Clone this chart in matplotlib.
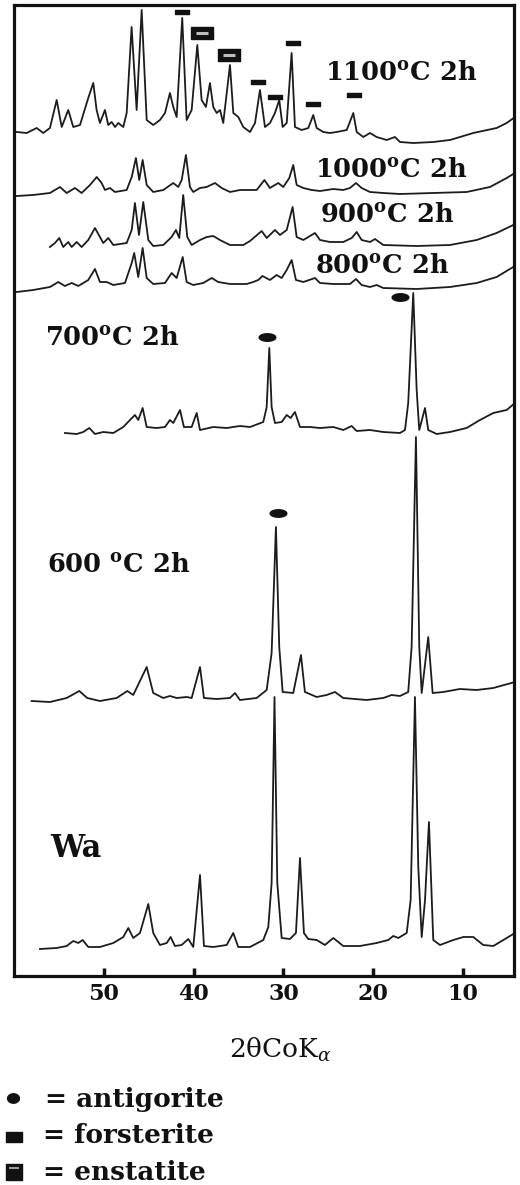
import numpy as np
import matplotlib
matplotlib.use("Agg")
import matplotlib.pyplot as plt

plt.rcParams['mathtext.fontset'] = 'custom'
plt.rcParams['mathtext.rm'] = 'DejaVu Serif'
plt.rcParams['mathtext.it'] = 'DejaVu Serif:italic'
plt.rcParams['mathtext.bf'] = 'DejaVu Serif:bold'

# ---------------- data (2theta, intensity above each pattern's offset) -------------
tt_1100 = [59.73, 58.61, 57.50, 56.76, 56.02, 55.27, 54.71, 53.98, 53.42, 52.67, 51.75, 51.19,
           50.82, 50.45, 49.89, 49.52, 49.14, 48.77, 48.40, 47.85, 47.47, 46.92, 46.36, 45.80,
           45.24, 44.51, 43.76, 43.20, 42.65, 42.28, 41.90, 41.28, 40.79, 40.23, 39.60, 39.12,
           38.64, 38.19, 37.82, 37.44, 37.07, 36.71, 35.96, 35.59, 35.03, 34.48, 33.73, 33.17,
           32.62, 32.06, 31.50, 30.95, 30.47, 30.09, 29.64, 29.09, 28.72, 27.97, 27.23, 26.68,
           26.30, 25.56, 24.82, 24.07, 22.95, 22.22, 21.84, 21.11, 20.36, 19.62, 18.50, 17.58,
           17.02, 15.54, 13.31, 11.45, 8.85, 6.25, 5.13, 4.20]
int_1100 = [4, 3, 8, 3, 8, 36, 9, 26, 9, 11, 38, 53,
            26, 13, 26, 11, 14, 9, 13, 9, 23, 109, 26, 126,
            16, 11, 16, 23, 43, 29, 19, 118, 16, 26, 91, 36,
            29, 53, 29, 23, 26, 13, 71, 23, 19, 9, 4, 13,
            46, 9, 13, 23, 36, 9, 13, 83, 9, 6, 8, 21,
            8, 4, 3, 4, 6, 23, 4, -1, 3, -1, -4, -1,
            -6, -7, -6, -4, 3, 8, 13, 19]

tt_1000 = [59.73, 57.91, 56.02, 54.90, 54.16, 53.23, 52.49, 51.56, 50.81, 50.26, 49.89, 49.33,
           48.78, 47.47, 46.91, 46.44, 46.07, 45.69, 45.24, 44.51, 43.39, 42.28, 41.72, 41.34,
           40.87, 40.42, 40.05, 39.30, 38.56, 37.63, 36.89, 35.96, 34.85, 33.73, 32.99, 32.12,
           31.51, 30.58, 30.02, 29.35, 28.91, 28.53, 27.79, 26.86, 25.93, 24.45, 23.34, 22.59,
           21.92, 21.29, 20.36, 18.88, 17.02, 13.31, 9.59, 6.99, 5.13, 4.21]
int_1000 = [0, 1, 3, 9, 3, 8, 3, 11, 19, 13, 6, 8,
            4, 6, 19, 38, 16, 36, 11, 4, 6, 13, 9, 16,
            41, 9, 4, 8, 9, 13, 8, 4, 6, 6, 6, 16,
            8, 13, 9, 18, 31, 11, 8, 6, 5, 7, 6, 8,
            13, 8, 4, 3, 2, 3, 4, 9, 18, 23]

tt_900 = [56.02, 55.46, 54.98, 54.54, 53.98, 53.60, 53.04, 52.49, 51.75, 51.00, 50.45, 50.08,
          49.52, 48.96, 47.47, 46.91, 46.55, 46.10, 45.62, 45.06, 44.51, 43.39, 42.46, 41.98,
          41.61, 41.17, 40.72, 40.23, 39.30, 38.56, 37.82, 37.08, 35.96, 34.48, 33.73, 32.43,
          31.87, 30.95, 30.39, 29.64, 28.98, 28.53, 27.79, 26.49, 25.93, 24.82, 23.34, 22.40,
          21.84, 21.29, 20.36, 19.80, 18.88, 15.16, 11.45, 8.47, 6.25, 4.40, 4.21]
int_900 = [-1, 3, 8, -1, 4, -1, 4, -1, 6, 18, 9, 3,
           8, 1, 3, 16, 43, 11, 44, 6, 0, 1, 9, 16,
           8, 51, 9, 1, 6, 9, 10, 6, 1, 1, 5, 15,
           8, 16, 11, 16, 39, 9, 6, 13, 6, 4, 4, 8,
           14, 6, 4, 7, 1, 0, 1, 6, 13, 21, 23]

tt_800 = [59.73, 57.88, 56.02, 55.09, 54.35, 53.60, 52.86, 51.75, 51.00, 50.45, 49.70, 48.96,
          47.66, 46.91, 46.63, 46.18, 45.69, 45.24, 44.51, 43.20, 42.46, 41.90, 41.23, 40.79,
          40.05, 38.94, 38.00, 37.27, 35.96, 34.10, 33.37, 32.81, 32.34, 31.51, 30.76, 30.20,
          29.64, 29.09, 28.61, 27.79, 26.49, 25.93, 24.45, 22.59, 21.92, 21.29, 20.36, 19.62,
          18.88, 15.16, 11.45, 8.47, 6.25, 4.40, 4.21]
int_800 = [-4, -2, 1, 6, 2, 5, 2, 8, 19, 6, 6, 3,
           5, 25, 35, 11, 40, 10, 4, 5, 15, 10, 31, 6,
           3, 5, 10, 6, 4, 4, 6, 8, 12, 8, 13, 10,
           18, 28, 8, 6, 10, 5, 4, 4, 9, 3, 1, 3,
           0, -1, 1, 5, 11, 21, 23]

tt_700 = [54.35, 53.04, 52.31, 51.64, 51.00, 50.08, 48.96, 47.85, 47.10, 46.55, 46.18, 45.69,
          45.24, 44.13, 43.20, 42.65, 42.28, 41.53, 41.09, 40.23, 39.67, 39.30, 37.82, 36.33,
          34.85, 33.73, 32.25, 31.87, 31.58, 31.32, 30.95, 30.20, 29.64, 29.20, 28.72, 28.16,
          27.05, 25.93, 24.45, 23.34, 22.40, 21.84, 20.36, 18.88, 17.02, 16.46, 16.10, 15.54,
          15.16, 14.87, 14.23, 13.87, 12.93, 11.45, 9.59, 8.11, 6.62, 5.13, 4.21]
int_700 = [-2, -3, -1, 3, -3, -1, -2, 4, 11, 16, 11, 23,
           4, 3, 4, 11, 8, 21, 4, 4, 18, 1, 4, 3,
           5, 4, 9, 24, 83, 24, 8, 9, 16, 13, 19, 4,
           4, 3, 4, 1, 5, 0, 1, -1, -2, 1, 28, 138,
           41, 1, 23, 1, -3, -1, 3, 11, 18, 21, 28]

tt_600 = [58.06, 56.02, 54.16, 52.75, 51.86, 50.45, 48.59, 47.40, 46.74, 45.24, 44.51, 43.39,
          42.65, 41.90, 40.79, 40.23, 39.30, 38.86, 37.44, 35.96, 35.40, 34.85, 32.99, 31.87,
          31.32, 30.84, 30.47, 30.09, 28.91, 28.05, 27.61, 26.30, 25.19, 24.26, 23.34, 20.73,
          18.88, 17.95, 17.02, 16.10, 15.72, 15.24, 14.87, 14.60, 13.87, 13.38, 12.20, 10.34,
          8.47, 6.62, 4.21]
int_600 = [-1, -2, 2, 9, 2, -1, 2, 9, 5, 33, 7, 2,
           4, 2, 3, 2, 33, 2, 1, 2, 7, 0, 2, 10,
           47, 173, 53, 8, 7, 45, 8, 3, 5, 8, 2, 0,
           2, 5, 4, 8, 53, 263, 53, 7, 63, 7, 8, 11,
           10, 12, 18]

tt_wa = [57.13, 55.27, 54.16, 53.42, 52.86, 52.37, 51.75, 50.45, 48.96, 47.85, 47.29, 46.74,
         45.99, 45.06, 44.51, 43.76, 43.01, 42.57, 42.09, 41.34, 40.61, 40.05, 39.30, 38.86,
         37.82, 36.33, 35.59, 35.04, 33.73, 32.25, 31.69, 31.32, 31.00, 30.69, 30.20, 29.28,
         28.61, 28.16, 27.72, 27.24, 26.30, 25.38, 24.45, 23.34, 21.48, 19.62, 18.32, 17.77,
         17.21, 16.27, 15.83, 15.35, 14.98, 14.60, 14.23, 13.79, 13.31, 12.56, 11.08, 9.96,
         8.85, 7.74, 6.62, 5.13, 4.21]
int_wa = [-1, 0, 2, 7, 5, 8, 1, 1, 5, 11, 20, 10,
          15, 44, 15, 3, 5, 11, 2, 3, 9, 1, 73, 2,
          1, 3, 15, 1, 1, 8, 21, 65, 251, 65, 10, 9,
          15, 90, 15, 9, 8, 3, 10, 2, 2, 5, 8, 12,
          10, 15, 48, 251, 81, 11, 48, 126, 8, 3, 8, 11,
          11, 3, 2, 10, 15]

samples = ["1100", "1000", "900", "800", "700", "600", "Wa"]
offsets = [840, 780, 730, 688, 545, 276, 28]
labels = ["1100$^{\\mathbf{o}}$C 2h", "1000$^{\\mathbf{o}}$C 2h", "900$^{\\mathbf{o}}$C 2h",
          "800$^{\\mathbf{o}}$C 2h", "700$^{\\mathbf{o}}$C 2h", "600 $^{\\mathbf{o}}$C 2h", "Wa"]

# phase marks: 2theta and height above pattern offset
forst_tt = [41.31, 32.84, 30.95, 28.99, 26.66, 22.15]
forst_h = [124, 54, 39, 93, 32, 41]            # on 1100 pattern
enst_tt = [39.08, 36.07]
enst_h = [103, 81]                             # on 1100 pattern
antig_700_tt = [31.84, 17.02]
antig_700_h = [94, 134]
antig_600_tt = [30.61]
antig_600_h = [187]

x_ticks = [50, 40, 30, 20, 10]

# ---------------- figure ----------------
W, H = 520, 1185
fig = plt.figure(figsize=(W / 100, H / 100), dpi=100)
ax_l, ax_r, ax_t, ax_b = 13.5, 513.5, 5, 976
ax = fig.add_axes([ax_l / W, 1 - ax_b / H, (ax_r - ax_l) / W, (ax_b - ax_t) / H])

series = [(tt_1100, int_1100), (tt_1000, int_1000), (tt_900, int_900), (tt_800, int_800),
          (tt_700, int_700), (tt_600, int_600), (tt_wa, int_wa)]
line_col = '#1c1c1c'
for (tt, it), off in zip(series, offsets):
    ax.plot(tt, np.asarray(it) + off, color=line_col, lw=1.3, solid_joinstyle='round')

ax.set_xlim(60.08, 4.37)
ax.set_ylim(0, 971)
ax.set_yticks([])
ax.set_xticks(x_ticks)
ax.set_xticklabels([str(t) for t in x_ticks], fontfamily='DejaVu Serif',
                   fontweight='bold', fontsize=16)
ax.tick_params(axis='x', direction='in', length=6, width=2.5, pad=5, colors='#111111')
for s in ax.spines.values():
    s.set_linewidth(2.3)
    s.set_color('#111111')

# marker shapes
ell = np.linspace(0, 2 * np.pi, 40)
ellipse_verts = list(zip(np.cos(ell), 0.45 * np.sin(ell)))
forst_verts = [(-1, -0.33), (1, -0.33), (1, 0.33), (-1, 0.33), (-1, -0.33)]
enst_verts = [(-1, -0.5), (1, -0.5), (1, 0.5), (-1, 0.5), (-1, -0.5)]

ax.plot(forst_tt, np.asarray(forst_h) + offsets[0], ls='none', marker=forst_verts,
        ms=9.5, color='#111111', mec='#111111')
ax.plot(enst_tt, np.asarray(enst_h) + offsets[0], ls='none', marker=enst_verts,
        ms=16, color='#111111', mec='#111111')
ax.plot(enst_tt, np.asarray(enst_h) + offsets[0], ls='none', marker='_',
        ms=9, mew=2.2, color='#bdbdbd')
ax.plot(antig_700_tt, np.asarray(antig_700_h) + offsets[4], ls='none', marker=ellipse_verts,
        ms=12, color='#111111', mec='#111111')
ax.plot(antig_600_tt, np.asarray(antig_600_h) + offsets[5], ls='none', marker=ellipse_verts,
        ms=12, color='#111111', mec='#111111')

# pattern labels (left x in 2theta, baseline y)
label_pos = [(25.38, 896), (26.49, 799), (25.93, 754), (26.49, 703),
             (56.57, 631), (56.35, 404), (56.02, 119)]
for lab, (lx, ly) in zip(labels, label_pos):
    fs = 22 if lab == "Wa" else 18.5
    ax.text(lx, ly, lab, ha='left', va='baseline', fontfamily='DejaVu Serif',
            fontweight='bold', fontsize=fs, color='#111111')

# x label
ax.set_xlabel("2θCoK$_{\\alpha}$", fontfamily='DejaVu Serif', fontsize=19, color='#111111')
ax.xaxis.set_label_coords((280 - ax_l) / (ax_r - ax_l), -(1050 - ax_b) / (ax_b - ax_t))
ax.xaxis.label.set_va('center')

# legend overlay in pixel coordinates
ov = fig.add_axes([0, 0, 1, 1])
ov.set_xlim(0, W)
ov.set_ylim(H, 0)
ov.axis('off')
ov.patch.set_alpha(0)
ell2 = list(zip(np.cos(ell), 0.8 * np.sin(ell)))
ov.plot([13], [1098], marker=ell2, ms=8.5, color='#111111', ls='none')
ov.plot([13.5], [1137], marker=[(-1, -0.6), (1, -0.6), (1, 0.6), (-1, 0.6), (-1, -0.6)],
        ms=12, color='#111111', ls='none')
ov.plot([13.5], [1172], marker=[(-1, -1), (1, -1), (1, 1), (-1, 1), (-1, -1)],
        ms=12, color='#111111', ls='none')
ov.plot([13.5], [1168], marker='_', ms=7, mew=1.5, color='#9a9a9a', ls='none')
leg_txt = [("= antigorite", 45, 1107), ("= forsterite", 43, 1143), ("= enstatite", 43, 1180)]
for t, x, y in leg_txt:
    ov.text(x, y, t, ha='left', va='baseline', fontfamily='DejaVu Serif',
            fontweight='bold', fontsize=19, color='#111111')

fig.savefig("out.png", dpi=100, facecolor='white')
